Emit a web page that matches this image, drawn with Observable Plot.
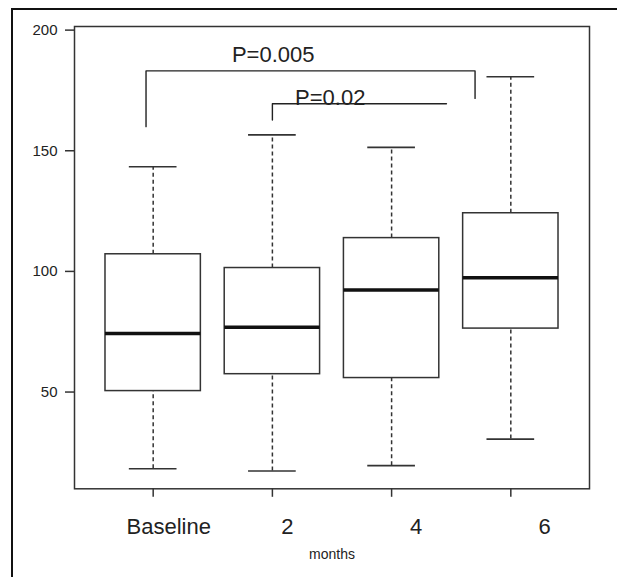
<!DOCTYPE html>
<html><head><meta charset="utf-8">
<script src="https://cdn.jsdelivr.net/npm/d3@7"></script>
<script src="https://cdn.jsdelivr.net/npm/@observablehq/plot@0.6"></script>
<style>
html,body{margin:0;padding:0;background:#fff;overflow:hidden;}
#wrap{position:relative;width:617px;height:577px;}
#border{position:absolute;left:11px;top:8px;width:800px;height:800px;border-left:2px solid #111;border-top:2px solid #111;pointer-events:none;}
#chart{position:absolute;left:0;top:0;}
</style></head><body>
<div id="wrap"><div id="chart"></div><div id="border"></div></div>
<script>
// categories and box statistics
const months = ["Baseline", "2", "4", "6"];
const position = [1, 2, 3, 4];
const lowerWhisker = [18.2, 17.3, 19.5, 30.5];
const q1 = [50.4, 57.4, 55.8, 76.3];
const median = [74.3, 76.9, 92.3, 97.4];
const q3 = [107.1, 101.4, 113.8, 124.1];
const upperWhisker = [143.4, 156.6, 151.4, 180.7];
const yTicks = [50, 100, 150, 200];
// significance brackets
const bracket1X = [0.94, 0.94, 3.70, 3.70];
const bracket1Y = [160.0, 183.1, 183.1, 171.7];
const bracket2X = [2.0, 2.0, 3.46];
const bracket2Y = [162.7, 169.5, 169.5];
const pLabels = ["P=0.005", "P=0.02"];
const pX = [2.007, 2.19];
const pY = [186.8, 169.0];

const boxes = months.map((m, i) => ({
  month: m, pos: position[i], lo: lowerWhisker[i], q1: q1[i],
  med: median[i], q3: q3[i], hi: upperWhisker[i]
}));
const b1 = bracket1X.map((x, i) => ({x, y: bracket1Y[i]}));
const b2 = bracket2X.map((x, i) => ({x, y: bracket2Y[i]}));

const ink = "#222";
const hw = 0.4, cw = 0.2;
const labelDx = [15.5, 15.1, 24.6, 33.8];

const chart = Plot.plot({
  width: 617,
  height: 577,
  marginLeft: 74,
  marginRight: 28,
  marginTop: 26,
  marginBottom: 88.7,
  style: {fontFamily: "'Liberation Sans', Arial, sans-serif", background: "transparent", color: ink},
  x: {type: "linear", domain: [0.34, 4.66], axis: null},
  y: {domain: [9.9, 201.5], axis: null},
  marks: [
    Plot.frame({stroke: "#333", strokeWidth: 1.5}),
    Plot.axisY({ticks: yTicks, tickSize: 9, tickPadding: 8, fontSize: 15, label: null, stroke: "#333", strokeWidth: 1.5, fill: ink}),
    Plot.axisX({ticks: position, tickFormat: () => "", tickSize: 8.5, label: null, stroke: "#333", strokeWidth: 1.5}),
    // whiskers
    Plot.ruleX(boxes, {x: "pos", y1: "q3", y2: "hi", stroke: "#333", strokeWidth: 1.5, strokeDasharray: "4,3"}),
    Plot.ruleX(boxes, {x: "pos", y1: "lo", y2: "q1", stroke: "#333", strokeWidth: 1.5, strokeDasharray: "4,3"}),
    Plot.ruleY(boxes, {y: "hi", x1: d => d.pos - cw, x2: d => d.pos + cw, stroke: "#333", strokeWidth: 1.6}),
    Plot.ruleY(boxes, {y: "lo", x1: d => d.pos - cw, x2: d => d.pos + cw, stroke: "#333", strokeWidth: 1.6}),
    // boxes
    Plot.rect(boxes, {x1: d => d.pos - hw, x2: d => d.pos + hw, y1: "q1", y2: "q3", fill: "white", stroke: "#333", strokeWidth: 1.5}),
    Plot.ruleY(boxes, {y: "med", x1: d => d.pos - hw, x2: d => d.pos + hw, stroke: "#111", strokeWidth: 3.5}),
    // brackets
    Plot.line(b1, {x: "x", y: "y", stroke: "#222", strokeWidth: 1.4}),
    Plot.line(b2, {x: "x", y: "y", stroke: "#222", strokeWidth: 1.4}),
    Plot.text([pLabels[0]], {x: [pX[0]], y: [pY[0]], text: d => d, fontSize: 22, textAnchor: "middle", lineAnchor: "bottom", fill: ink}),
    Plot.text([pLabels[1]], {x: [pX[1]], y: [pY[1]], text: d => d, fontSize: 22, textAnchor: "start", lineAnchor: "bottom", fill: ink}),
    // category labels
    ...months.map((m, i) => Plot.text([m], {x: [position[i]], frameAnchor: "bottom", text: d => d, dx: labelDx[i], dy: 45.2, fontSize: 22, lineAnchor: "bottom", fill: ink})),
    Plot.text(["months"], {frameAnchor: "bottom", text: d => d, dy: 70, fontSize: 14, lineAnchor: "bottom", fill: ink})
  ]
});
document.getElementById("chart").appendChild(chart);
</script>
</body></html>
